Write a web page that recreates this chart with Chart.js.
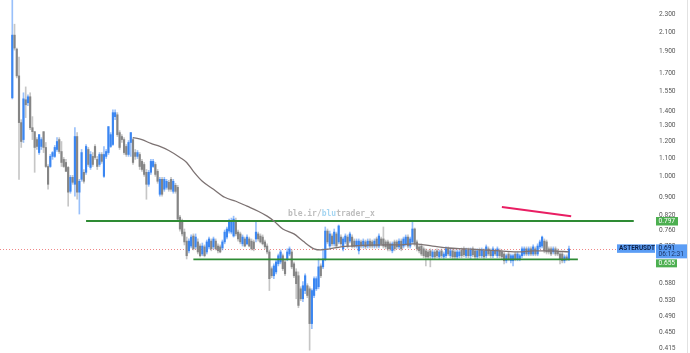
<!DOCTYPE html>
<html><head><meta charset="utf-8">
<script src="https://cdn.jsdelivr.net/npm/chart.js@4.4.0/dist/chart.umd.min.js"></script>
<style>html,body{margin:0;padding:0;background:#fff;}#wrap{width:690px;height:353px;position:relative;}canvas{display:block;}</style>
</head><body><div id="wrap"><canvas id="c" width="690" height="353"></canvas></div>
<script>
// ---- data ----
const SLOTS = 293;      // category slots across the plot (candles + empty space)
const FIRST = 5;        // slot of the first candle
const symbol = 'ASTERUSDT';
const timer = '06:12:31';
const open = [1.499,2.067,1.924,1.677,1.320,1.210,1.484,1.461,1.507,1.286,
1.260,1.210,1.132,1.168,1.260,1.162,1.054,1.054,1.110,1.110,
1.150,1.210,1.138,1.093,1.076,1.049,0.928,0.997,0.962,1.229,
0.924,0.987,1.023,1.023,1.150,1.049,1.110,1.168,1.093,1.065,
1.121,1.002,1.110,1.132,1.168,1.180,1.361,1.374,1.254,1.229,
1.210,1.168,1.121,1.192,1.210,1.132,1.110,1.121,1.082,1.065,
1.023,0.962,1.023,1.054,1.065,
1.028,0.914,0.987,0.938,0.947,0.972,0.987,0.928,0.957,0.947,
0.813,0.797,0.753,0.719,0.684,0.701,0.738,0.698,0.716,0.701,
0.673,0.698,0.680,0.698,0.719,0.698,0.719,0.701,0.698,0.694,
0.716,0.734,0.757,0.753,0.738,0.793,0.753,0.746,0.709,0.727,
0.709,0.727,0.719,0.716,0.727,0.746,0.738,0.734,0.716,0.701,
0.680,0.624,0.602,0.614,0.640,0.646,0.667,0.646,0.656,0.673,
0.680,0.640,0.614,0.602,0.563,0.535,0.558,0.572,0.563,0.471,
0.544,0.563,0.569,0.633,0.630,0.656,0.757,0.701,0.738,0.709,
0.746,0.716,0.734,0.691,0.716,0.734,0.719,0.734,0.719,0.701,
0.684,0.716,0.701,0.716,0.701,0.719,0.716,0.701,0.727,0.701,
0.727,0.727,0.716,0.716,0.709,0.684,0.716,0.716,0.698,0.719,
0.701,0.709,0.734,0.701,0.716,0.765,0.716,0.698,0.701,0.691,
0.684,0.680,0.684,0.663,0.680,0.684,0.663,0.684,0.663,0.667,
0.691,0.667,0.684,0.680,0.663,0.667,0.687,0.691,0.667,0.687,
0.667,0.691,0.684,0.663,0.687,0.667,0.684,0.667,0.691,0.684,
0.667,0.684,0.667,0.684,0.680,0.673,0.650,0.673,0.650,0.650,
0.673,0.656,0.656,0.667,0.673,0.691,0.673,0.691,0.673,0.691,
0.673,0.698,0.701,0.719,0.716,0.691,0.691,0.680,0.691,0.684,
0.673,0.673,0.650,0.663,0.656];
const high = [2.666,2.186,1.934,1.847,1.340,1.538,1.585,1.522,1.538,1.361,
1.260,1.222,1.241,1.222,1.260,1.192,1.065,1.121,1.138,1.174,
1.222,1.222,1.198,1.104,1.093,1.054,1.007,1.007,1.286,1.254,
0.987,1.150,1.038,1.180,1.162,1.138,1.132,1.180,1.110,1.132,
1.132,1.168,1.150,1.293,1.254,1.410,1.410,1.389,1.267,1.241,
1.222,1.180,1.204,1.254,1.222,1.150,1.144,1.132,1.093,1.076,
1.038,1.033,1.093,1.093,1.076,
1.038,0.997,0.997,0.997,0.987,0.982,0.997,0.987,0.967,0.957,
0.821,0.805,0.765,0.734,0.727,0.742,0.746,0.746,0.727,0.709,
0.712,0.705,0.723,0.734,0.727,0.734,0.727,0.709,0.705,0.723,
0.761,0.773,0.805,0.809,0.817,0.809,0.761,0.753,0.742,0.734,
0.742,0.734,0.727,0.723,0.797,0.753,0.746,0.742,0.723,0.709,
0.687,0.630,0.640,0.653,0.673,0.687,0.673,0.653,0.691,0.698,
0.687,0.646,0.624,0.614,0.569,0.584,0.608,0.578,0.569,0.563,
0.599,0.599,0.656,0.640,0.691,0.773,0.765,0.757,0.746,0.765,
0.753,0.781,0.742,0.734,0.746,0.742,0.753,0.742,0.727,0.727,
0.727,0.723,0.727,0.723,0.727,0.727,0.723,0.727,0.734,0.746,
0.734,0.773,0.723,0.723,0.716,0.716,0.723,0.723,0.727,0.727,
0.734,0.742,0.742,0.734,0.797,0.769,0.723,0.705,0.709,0.698,
0.691,0.687,0.691,0.687,0.687,0.691,0.687,0.691,0.680,0.698,
0.698,0.691,0.691,0.687,0.687,0.687,0.694,0.698,0.694,0.694,
0.694,0.698,0.691,0.691,0.694,0.694,0.691,0.705,0.698,0.691,
0.698,0.691,0.698,0.691,0.687,0.680,0.673,0.680,0.673,0.673,
0.680,0.680,0.673,0.698,0.698,0.698,0.698,0.698,0.705,0.698,
0.709,0.723,0.738,0.727,0.723,0.698,0.698,0.698,0.698,0.691,
0.680,0.680,0.670,0.670,0.701];
const low = [1.490,1.914,1.660,0.987,1.162,1.192,1.354,1.439,1.273,1.210,
1.023,1.150,1.121,1.150,1.132,1.049,0.938,1.049,1.093,1.104,
1.138,1.127,1.054,1.049,1.028,0.860,0.919,0.962,0.905,0.891,
0.826,0.977,0.967,1.012,1.054,1.038,1.054,1.093,1.038,1.054,
1.071,0.997,1.098,1.121,1.162,1.174,1.340,1.229,1.150,1.192,
1.121,1.110,1.110,1.110,1.065,1.093,1.098,1.038,1.028,1.002,
0.891,0.952,1.012,1.049,1.002,
0.967,0.905,0.905,0.928,0.938,0.928,0.928,0.919,0.919,0.797,
0.757,0.738,0.705,0.656,0.677,0.694,0.687,0.691,0.673,0.663,
0.667,0.663,0.673,0.691,0.684,0.691,0.687,0.677,0.677,0.687,
0.709,0.727,0.749,0.746,0.734,0.738,0.719,0.709,0.701,0.698,
0.705,0.698,0.687,0.684,0.716,0.719,0.712,0.705,0.691,0.673,
0.558,0.596,0.593,0.608,0.633,0.640,0.618,0.602,0.650,0.667,
0.624,0.596,0.535,0.511,0.530,0.527,0.549,0.538,0.411,0.459,
0.538,0.558,0.563,0.596,0.624,0.650,0.709,0.694,0.701,0.701,
0.694,0.709,0.701,0.684,0.709,0.694,0.712,0.694,0.694,0.694,
0.673,0.694,0.694,0.691,0.694,0.694,0.694,0.694,0.694,0.694,
0.701,0.694,0.691,0.684,0.684,0.677,0.684,0.691,0.691,0.684,
0.694,0.701,0.694,0.694,0.709,0.701,0.684,0.677,0.667,0.660,
0.633,0.656,0.630,0.656,0.656,0.660,0.656,0.660,0.656,0.660,
0.667,0.660,0.656,0.656,0.656,0.660,0.660,0.663,0.660,0.660,
0.656,0.663,0.656,0.656,0.660,0.660,0.656,0.660,0.667,0.660,
0.660,0.667,0.660,0.660,0.656,0.640,0.643,0.650,0.643,0.633,
0.650,0.650,0.650,0.660,0.667,0.667,0.667,0.667,0.667,0.667,
0.667,0.691,0.694,0.677,0.673,0.673,0.667,0.673,0.667,0.667,
0.640,0.643,0.643,0.650,0.650];
const close = [2.067,1.934,1.677,1.320,1.198,1.491,1.446,1.507,1.286,1.260,
1.162,1.168,1.241,1.210,1.162,1.054,0.962,1.110,1.132,1.162,
1.198,1.138,1.076,1.054,1.028,0.924,0.997,0.972,1.229,0.924,
0.977,1.132,0.977,1.168,1.065,1.121,1.065,1.104,1.054,1.121,
1.082,1.121,1.138,1.293,1.241,1.389,1.389,1.241,1.162,1.210,
1.132,1.121,1.192,1.254,1.076,1.110,1.132,1.054,1.038,1.012,
0.962,1.023,1.082,1.082,1.012,
0.977,0.987,0.914,0.987,0.977,0.938,0.938,0.977,0.928,0.805,
0.765,0.746,0.716,0.667,0.719,0.734,0.691,0.734,0.680,0.667,
0.701,0.667,0.716,0.727,0.691,0.727,0.691,0.684,0.680,0.716,
0.753,0.765,0.797,0.793,0.805,0.746,0.727,0.716,0.734,0.701,
0.734,0.701,0.691,0.691,0.753,0.727,0.716,0.709,0.698,0.680,
0.593,0.602,0.633,0.646,0.667,0.680,0.624,0.608,0.680,0.691,
0.630,0.602,0.578,0.517,0.535,0.572,0.602,0.544,0.471,0.558,
0.593,0.593,0.630,0.602,0.656,0.757,0.716,0.746,0.709,0.753,
0.701,0.777,0.709,0.727,0.738,0.701,0.746,0.701,0.701,0.719,
0.719,0.701,0.719,0.698,0.719,0.701,0.701,0.719,0.701,0.738,
0.709,0.701,0.698,0.691,0.691,0.709,0.691,0.698,0.719,0.691,
0.727,0.734,0.701,0.727,0.765,0.709,0.691,0.684,0.673,0.667,
0.663,0.663,0.667,0.680,0.663,0.667,0.680,0.667,0.673,0.691,
0.673,0.684,0.663,0.663,0.680,0.680,0.667,0.670,0.687,0.667,
0.687,0.670,0.663,0.684,0.667,0.687,0.663,0.698,0.673,0.667,
0.691,0.673,0.691,0.667,0.663,0.650,0.667,0.656,0.667,0.667,
0.656,0.673,0.667,0.691,0.691,0.673,0.691,0.673,0.698,0.673,
0.701,0.716,0.734,0.684,0.680,0.680,0.673,0.691,0.673,0.673,
0.656,0.650,0.663,0.656,0.691];
// moving average (slot index -> value)
const maIdx = [59,63,67,71,75,80,83,86,90,95,100,105,110,115,119,122,126,131,135,140,143,147,152,157,170,178,184,193,200,208,223,232,238,246,254];
const maVal = [1.222,1.210,1.186,1.168,1.144,1.104,1.076,1.028,0.977,0.938,0.900,0.882,0.860,0.838,0.817,0.797,0.765,0.746,0.719,0.691,0.687,0.691,0.698,0.701,0.705,0.705,0.709,0.701,0.694,0.691,0.684,0.680,0.684,0.684,0.680];
// horizontal levels and the trend stroke
const resistance = 0.797, resFrom = 38, resTo = 283;
const support = 0.655, supFrom = 86, supTo = 258;
const trendIdx = [224, 255];
const trendVal = [0.856, 0.817];
const yTicks = [2.3,2.1,1.9,1.7,1.55,1.4,1.3,1.2,1.1,1.0,0.9,0.82,0.76,0.70,0.58,0.53,0.49,0.45,0.415];
const yMin = 0.4051, yMax = 2.4748;

// ---- build datasets ----
const labels = Array.from({length: SLOTS}, (_, i) => i);
const bodies = new Array(SLOTS).fill(null);
const wicks = new Array(SLOTS).fill(null);
const bodyCol = new Array(SLOTS).fill('#888');
const wickCol = new Array(SLOTS).fill('#ccc');
for (let k = 0; k < open.length; k++) {
  const i = FIRST + k;
  const up = close[k] >= open[k];
  bodies[i] = [Math.min(open[k], close[k]), Math.max(open[k], close[k])];
  wicks[i] = [low[k], high[k]];
  bodyCol[i] = up ? '#3a86f2' : '#858585';
  wickCol[i] = up ? 'rgba(70,140,245,0.55)' : 'rgba(128,128,128,0.45)';
}
const lastClose = close[close.length - 1];
const maData = maIdx.map((x, j) => ({x, y: maVal[j]}));

const overlay = {
  id: 'overlay',
  beforeDatasetsDraw(chart) {
    const c = chart.ctx, ys = chart.scales.y, ca = chart.chartArea;
    c.save();
    // watermark
    c.font = 'bold 8px "DejaVu Sans Mono"';
    c.textBaseline = 'middle';
    c.textAlign = 'left';
    let x = 288; const y = 213.5;
    const parts = [['ble.ir/', '#bdbdbd'], ['blu', '#a6d6f2'], ['trader_x', '#bdbdbd']];
    for (const [t, col] of parts) { c.fillStyle = col; c.fillText(t, x, y); x += c.measureText(t).width; }
    // last price dotted line
    const yl = Math.round(ys.getPixelForValue(lastClose)) + 0.5;
    c.strokeStyle = 'rgba(235,95,95,0.75)';
    c.lineWidth = 1;
    c.setLineDash([1, 2]);
    c.beginPath(); c.moveTo(ca.left, yl); c.lineTo(617, yl); c.stroke();
    c.restore();
  },
  afterDraw(chart) {
    const c = chart.ctx, ys = chart.scales.y;
    c.save();
    c.textBaseline = 'middle';
    c.textAlign = 'left';
    // resistance price pill
    const yr = ys.getPixelForValue(resistance);
    c.fillStyle = '#4caf50';
    c.fillRect(656, yr - 4, 22, 8.5);
    c.fillStyle = '#ffffff';
    c.font = '6.6px Roboto';
    c.fillText(resistance.toFixed(3), 658.5, yr + 0.3);
    // symbol + last price
    const yl = ys.getPixelForValue(lastClose);
    c.fillStyle = '#5b9df5';
    c.fillRect(617, yl - 4.5, 38, 8.5);
    c.fillRect(656, yl - 4.5, 32, 14);
    c.fillStyle = '#0d1f45';
    c.font = 'bold 6.4px Roboto';
    c.fillText(symbol, 619, yl - 0.1);
    c.font = '6.6px Roboto';
    c.fillText(lastClose.toFixed(3), 658.5, yl - 0.1);
    c.fillStyle = '#1c3566';
    c.fillText(timer, 658.5, yl + 6);
    // support price pill (pushed below the last-price pill)
    const ysup = yl + 10.5;
    c.fillStyle = '#4caf50';
    c.fillRect(656, ysup, 21, 8);
    c.fillStyle = '#ffffff';
    c.fillText(support.toFixed(3), 658.5, ysup + 4.2);
    // right edge
    c.strokeStyle = '#e2e2e2';
    c.beginPath(); c.moveTo(687.5, 0); c.lineTo(687.5, 353); c.stroke();
    c.restore();
  }
};

new Chart(document.getElementById('c'), {
  type: 'bar',
  data: {
    labels,
    datasets: [
      {type: 'line', data: maData, borderColor: '#7d7373', borderWidth: 1.3, pointRadius: 0, cubicInterpolationMode: 'monotone', order: 0},
      {type: 'line', data: [{x: resFrom, y: resistance}, {x: resTo, y: resistance}], borderColor: '#2e8b34', borderWidth: 1.8, pointRadius: 0, order: 0},
      {type: 'line', data: [{x: supFrom, y: support}, {x: supTo, y: support}], borderColor: '#2e8b34', borderWidth: 1.8, pointRadius: 0, order: 0},
      {type: 'line', data: trendIdx.map((x, j) => ({x, y: trendVal[j]})), borderColor: '#e91e63', borderWidth: 2, pointRadius: 0, order: 0},
      {type: 'bar', data: bodies, backgroundColor: bodyCol, barThickness: 1.5, grouped: false, borderWidth: 0, order: 1},
      {type: 'bar', data: wicks, backgroundColor: wickCol, barThickness: 1, grouped: false, borderWidth: 0, order: 2}
    ]
  },
  options: {
    responsive: false,
    animation: false,
    events: [],
    devicePixelRatio: 1,
    layout: {padding: 0, autoPadding: false},
    plugins: {legend: {display: false}, tooltip: {enabled: false}, title: {display: false}},
    scales: {
      x: {type: 'category', display: false, offset: true, grid: {display: false}},
      y: {
        type: 'logarithmic', position: 'right', min: yMin, max: yMax, bounds: 'data',
        grid: {display: false, drawTicks: false}, border: {display: false},
        afterBuildTicks: (s) => { s.ticks = yTicks.map(v => ({value: v})); },
        afterFit: (s) => { s.width = 35; s.paddingTop = 0; s.paddingBottom = 0; },
        ticks: {autoSkip: false, padding: 4, color: '#555', font: {family: 'Roboto', size: 6.6},
                callback: (v) => Number(v).toFixed(3)}
      }
    }
  },
  plugins: [overlay]
});
</script>
</body></html>
